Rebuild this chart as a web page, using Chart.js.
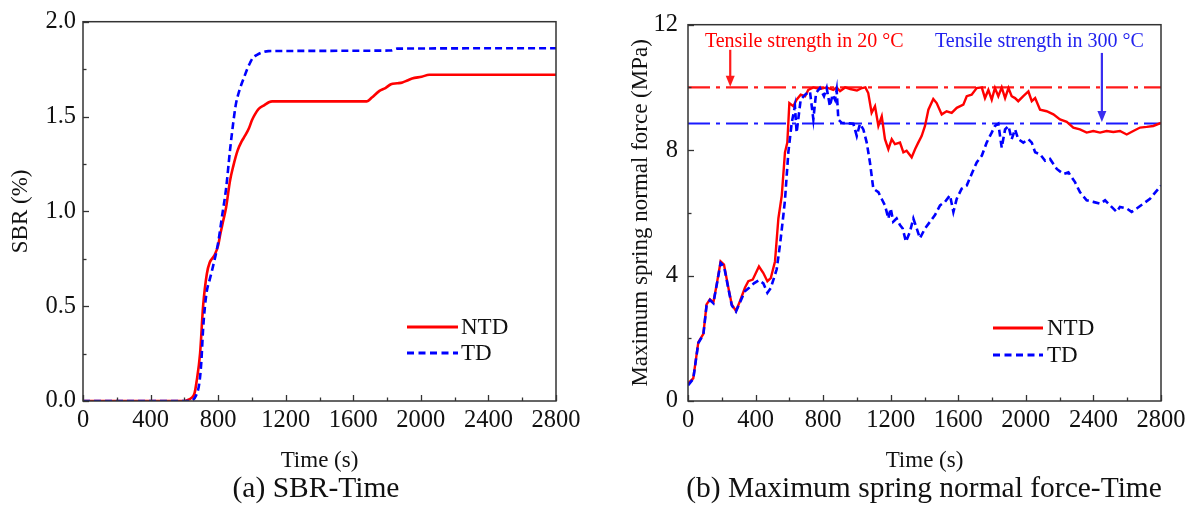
<!DOCTYPE html>
<html><head><meta charset="utf-8">
<script src="https://cdn.jsdelivr.net/npm/chart.js@4.4.1/dist/chart.umd.min.js"></script>
<style>
html,body{margin:0;padding:0;background:#fff;width:1193px;height:505px;overflow:hidden;}
.wrap{position:absolute;top:0;height:505px;}
#w1{left:0;width:600px;} #w2{left:600px;width:593px;}
.cap{position:absolute;top:470px;font-family:"Liberation Serif";font-size:29.5px;color:#111;white-space:nowrap;text-align:center;line-height:34px}
</style></head><body>
<div class="wrap" id="w1"><canvas id="c1"></canvas></div>
<div class="wrap" id="w2"><canvas id="c2"></canvas></div>
<div class="cap" style="left:0;width:632px">(a) SBR-Time</div>
<div class="cap" style="left:655px;width:538px">(b) Maximum spring normal force-Time</div>
<script>
// ---------- (a) SBR-Time ----------
const sbrNtdTime = [0,600,620,640,660,672,693,711,733,750,779,800,813,830,847,870,890,915,940,960,983,1000,1017,1040,1074,1100,1120,1680,1710,1755,1790,1823,1860,1891,1920,1948,2005,2050,2800];
const sbrNtdValue = [0,0,0.005,0.015,0.04,0.1,0.25,0.5,0.67,0.73,0.77,0.82,0.88,0.95,1.02,1.16,1.24,1.32,1.37,1.40,1.44,1.48,1.51,1.54,1.56,1.575,1.58,1.58,1.6,1.635,1.65,1.67,1.675,1.68,1.69,1.70,1.71,1.72,1.72];
const sbrTdTime = [0,630,650,670,688,700,711,722,733,750,767,801,824,847,870,887,904,920,938,955,972,990,1006,1030,1051,1097,1820,1860,2800];
const sbrTdValue = [0,0,0.005,0.03,0.09,0.2,0.38,0.5,0.58,0.64,0.70,0.84,0.98,1.12,1.32,1.45,1.56,1.62,1.67,1.71,1.75,1.785,1.81,1.825,1.835,1.845,1.848,1.858,1.86];
const sbrYTicks = [0, 0.5, 1.0, 1.5, 2.0];

// ---------- (b) Maximum spring normal force-Time ----------
const forceNtdTime = [
 0,31,61,91,110,130,150,170,193,213,
 239,259,284,308,337,357,383,420,446,470,
 490,515,535,555,574,588,600,623,643,667,
 693,712,742,780,820,860,880,900,930,960,
 1000,1030,1050,1067,1087,1107,1127,1147,1166,1186,
 1206,1225,1255,1275,1294,1324,1344,1363,1383,1403,
 1423,1452,1472,1502,1531,1561,1591,1630,1650,1679,
 1709,1739,1758,1778,1798,1817,1837,1857,1877,1897,
 1916,1936,1955,1985,2015,2035,2055,2084,2123,2163,
 2202,2242,2281,2320,2360,2399,2439,2478,2518,2557,
 2597,2636,2676,2715,2754,2800];
const forceNtdValue = [
 0.56,0.72,1.87,2.14,3.08,3.24,3.14,3.72,4.45,4.35,
 3.61,3.08,2.87,3.19,3.61,3.82,3.87,4.29,4.08,3.82,
 3.92,4.45,5.82,6.55,7.93,8.24,9.50,9.40,9.61,9.77,
 9.72,9.92,10.0,9.95,10.0,9.92,10.0,9.88,10.0,9.95,
 9.90,9.98,10.0,9.82,9.19,9.40,8.77,9.08,8.35,8.03,
 8.35,8.19,8.24,7.93,7.98,7.77,8.03,8.24,8.45,8.77,
 9.29,9.63,9.50,9.14,9.24,9.19,9.35,9.45,9.72,9.77,
 9.98,10.0,9.66,9.92,9.61,9.98,9.72,10.0,9.66,9.98,
 9.72,9.66,9.56,9.72,9.87,9.56,9.66,9.29,9.24,9.14,
 8.98,8.90,8.72,8.66,8.56,8.61,8.56,8.61,8.58,8.61,
 8.50,8.61,8.72,8.74,8.77,8.87];
const forceTdTime = [
 0,31,61,91,110,130,150,170,193,213,
 239,259,284,308,337,360,390,420,446,470,
 490,525,545,564,574,594,614,633,643,667,
 693,722,742,758,781,805,821,840,856,870,
 880,890,910,979,999,1018,1038,1058,1077,1097,
 1127,1146,1166,1186,1200,1215,1235,1255,1271,1290,
 1314,1334,1354,1373,1403,1433,1462,1492,1521,1551,
 1571,1591,1620,1650,1679,1709,1739,1768,1798,1817,
 1837,1857,1877,1897,1916,1936,1955,1985,2015,2035,
 2055,2084,2114,2143,2183,2222,2252,2291,2320,2360,
 2399,2439,2469,2498,2538,2557,2597,2626,2656,2695,
 2735,2800];
const forceTdValue = [
 0.50,0.70,1.85,2.12,3.05,3.22,3.12,3.70,4.40,4.30,
 3.58,3.05,2.85,3.15,3.50,3.60,3.75,3.85,3.75,3.45,
 3.60,4.20,5.00,5.90,6.40,7.93,8.87,9.40,8.56,9.61,
 9.77,9.87,8.98,9.82,9.98,9.72,9.98,9.40,9.77,9.61,
 9.92,8.98,8.87,8.84,8.45,8.84,8.66,8.24,7.61,6.77,
 6.66,6.45,6.24,5.82,6.14,5.72,5.82,5.61,5.50,5.08,
 5.40,5.82,5.50,5.19,5.50,5.72,5.93,6.24,6.35,6.56,
 6.03,6.45,6.77,6.87,7.24,7.61,7.82,8.24,8.56,8.77,
 8.84,8.08,8.66,8.77,8.35,8.66,8.35,8.24,8.35,8.24,
 7.93,7.87,7.66,7.72,7.40,7.24,7.29,6.98,6.66,6.40,
 6.35,6.29,6.40,6.24,6.03,6.19,6.14,6.03,6.14,6.29,
 6.45,6.87];
const strengthLevels = [10.0, 8.85];          // 20 °C, 300 °C
const strengthLabels = ["Tensile strength in 20 °C", "Tensile strength in 300 °C"];
const labelAnchors = [[100, 11.46], [1462, 11.46]];   // [time, force] of text left/middle
const arrowTimes = [250, 2450];
const arrowFrom = [11.2, 11.1];
const arrowTo = [10.02, 8.9];
const forceYTicks = [0, 4, 8, 12];
const timeTicks = [0, 400, 800, 1200, 1600, 2000, 2400, 2800];
const seriesNames = ["NTD", "TD"];

const FONT = '"Liberation Serif", "Times New Roman", serif';
const RED = '#ff0000', BLUE = '#0000ff';
const pts = (t, v) => t.map((x, i) => ({x, y: v[i]}));

const decor = {
  id: 'decor',
  afterDatasetsDraw(chart, args, o) {
    const {ctx, chartArea: a, scales: {x, y}} = chart;
    ctx.save();
    (o.arrows || []).forEach(ar => {
      const px = x.getPixelForValue(ar.t), y0 = y.getPixelForValue(ar.from), y1 = y.getPixelForValue(ar.to);
      ctx.strokeStyle = ar.color; ctx.fillStyle = ar.color; ctx.lineWidth = 2.2; ctx.setLineDash([]);
      ctx.beginPath(); ctx.moveTo(px, y0); ctx.lineTo(px, y1 - 9); ctx.stroke();
      ctx.beginPath(); ctx.moveTo(px - 4.5, y1 - 11); ctx.lineTo(px + 4.5, y1 - 11); ctx.lineTo(px, y1); ctx.closePath(); ctx.fill();
    });
    (o.texts || []).forEach(tx => {
      ctx.font = '20px ' + FONT; ctx.fillStyle = tx.color; ctx.textAlign = 'left'; ctx.textBaseline = 'middle';
      ctx.fillText(tx.text, x.getPixelForValue(tx.t), y.getPixelForValue(tx.v));
    });
    (o.legend || []).forEach(lg => {
      ctx.strokeStyle = lg.color; ctx.lineWidth = 3; ctx.setLineDash(lg.dash);
      ctx.beginPath(); ctx.moveTo(lg.x0, lg.y); ctx.lineTo(lg.x1, lg.y); ctx.stroke();
      ctx.setLineDash([]);
      ctx.font = '23px ' + FONT; ctx.fillStyle = '#111'; ctx.textAlign = 'left'; ctx.textBaseline = 'middle';
      ctx.fillText(lg.text, lg.tx, lg.y + 1);
    });
    ctx.setLineDash([]);
    ctx.strokeStyle = '#333'; ctx.lineWidth = 1.5;
    ctx.strokeRect(a.left, a.top, a.right - a.left, a.bottom - a.top);
    ctx.lineWidth = 1.3;
    for (let v = x.min; v <= x.max + 1e-9; v += o.xMinor) {
      const p = Math.round(x.getPixelForValue(v)) + 0.5;
      const major = Math.abs(v / o.xMajor - Math.round(v / o.xMajor)) < 1e-6;
      const L = major ? 6 : 3.5;
      ctx.beginPath(); ctx.moveTo(p, a.bottom); ctx.lineTo(p, a.bottom - L); ctx.stroke();
    }
    for (let v = y.min; v <= y.max + 1e-9; v += o.yMinor) {
      const p = Math.round(y.getPixelForValue(v)) + 0.5;
      const major = Math.abs(v / o.yMajor - Math.round(v / o.yMajor)) < 1e-6;
      const L = major ? 6 : 3.5;
      ctx.beginPath(); ctx.moveTo(a.left, p); ctx.lineTo(a.left + L, p); ctx.stroke();
    }
    ctx.restore();
  }
};

function makeChart(id, datasets, yOpt, padRight, yWidth, yTitlePad, yLabelPad, decorOpt) {
  return new Chart(document.getElementById(id), {
    type: 'line',
    data: {datasets},
    options: {
      responsive: true, maintainAspectRatio: false, animation: false,
      layout: {padding: {top: 21, right: padRight, bottom: 0, left: 0}},
      plugins: {legend: {display: false}, tooltip: {enabled: false}, decor: decorOpt},
      elements: {point: {radius: 0}},
      scales: {
        x: {
          type: 'linear', min: 0, max: 2800,
          afterBuildTicks: s => { s.ticks = timeTicks.map(v => ({value: v})); },
          ticks: {font: {family: FONT, size: 24.5}, color: '#111', padding: 5, maxRotation: 0, autoSkip: false, callback: v => String(v)},
          grid: {display: false, drawTicks: false}, border: {display: false},
          title: {display: true, text: 'Time (s)', font: {family: FONT, size: 23}, color: '#111', padding: {top: 0, bottom: 30}},
          afterFit: s => { s.height = 104; }
        },
        y: Object.assign({
          type: 'linear',
          grid: {display: false, drawTicks: false}, border: {display: false},
          afterFit: s => { s.width = yWidth; }
        }, yOpt, {
          ticks: Object.assign({font: {family: FONT, size: 24.5}, color: '#111', padding: yLabelPad, autoSkip: false}, yOpt.ticks),
          title: {display: true, text: yOpt.titleText, font: {family: FONT, size: 23}, color: '#111', padding: {top: yTitlePad, bottom: 0}}
        })
      }
    },
    plugins: [decor]
  });
}

makeChart('c1', [
  {label: seriesNames[0], data: pts(sbrNtdTime, sbrNtdValue), borderColor: RED, borderWidth: 2.6, cubicInterpolationMode: 'monotone', order: 2},
  {label: seriesNames[1], data: pts(sbrTdTime, sbrTdValue), borderColor: BLUE, borderWidth: 2.6, borderDash: [7, 4], cubicInterpolationMode: 'monotone', order: 1}
], {
  min: 0, max: 2, titleText: 'SBR (%)',
  afterBuildTicks: s => { s.ticks = sbrYTicks.map(v => ({value: v})); },
  ticks: {callback: v => v.toFixed(1)}
}, 44, 83, 7, 7, {
  xMinor: 200, xMajor: 400, yMinor: 0.25, yMajor: 0.5,
  legend: [
    {text: seriesNames[0], color: RED, dash: [], x0: 407, x1: 458, y: 327, tx: 461},
    {text: seriesNames[1], color: BLUE, dash: [7, 4.5], x0: 407, x1: 458, y: 353, tx: 461}
  ]
});

makeChart('c2', [
  {label: 'ref20', data: [{x: 0, y: strengthLevels[0]}, {x: 2800, y: strengthLevels[0]}], borderColor: '#ff1a1a', borderWidth: 2.2, borderDash: [22, 6, 4, 6], order: 4},
  {label: 'ref300', data: [{x: 0, y: strengthLevels[1]}, {x: 2800, y: strengthLevels[1]}], borderColor: '#1a1aff', borderWidth: 2.2, borderDash: [22, 6, 4, 6], order: 3},
  {label: seriesNames[0], data: pts(forceNtdTime, forceNtdValue), borderColor: RED, borderWidth: 2.4, tension: 0, order: 2},
  {label: seriesNames[1], data: pts(forceTdTime, forceTdValue), borderColor: BLUE, borderWidth: 2.6, borderDash: [7, 4], tension: 0, order: 1}
], {
  min: 0, max: 12, titleText: 'Maximum spring normal force (MPa)',
  afterBuildTicks: s => { s.ticks = forceYTicks.map(v => ({value: v})); },
  ticks: {}
}, 32, 88, 27, 10, {
  xMinor: 200, xMajor: 400, yMinor: 2, yMajor: 4,
  arrows: [
    {t: arrowTimes[0], from: arrowFrom[0], to: arrowTo[0], color: '#ff1a1a'},
    {t: arrowTimes[1], from: arrowFrom[1], to: arrowTo[1], color: '#3a2ef0'}
  ],
  texts: [
    {text: strengthLabels[0], t: labelAnchors[0][0], v: labelAnchors[0][1], color: '#ff0000'},
    {text: strengthLabels[1], t: labelAnchors[1][0], v: labelAnchors[1][1], color: '#2222ee'}
  ],
  legend: [
    {text: seriesNames[0], color: RED, dash: [], x0: 393, x1: 443, y: 328, tx: 447},
    {text: seriesNames[1], color: BLUE, dash: [7, 4.5], x0: 393, x1: 443, y: 355, tx: 447}
  ]
});
</script>
</body></html>
